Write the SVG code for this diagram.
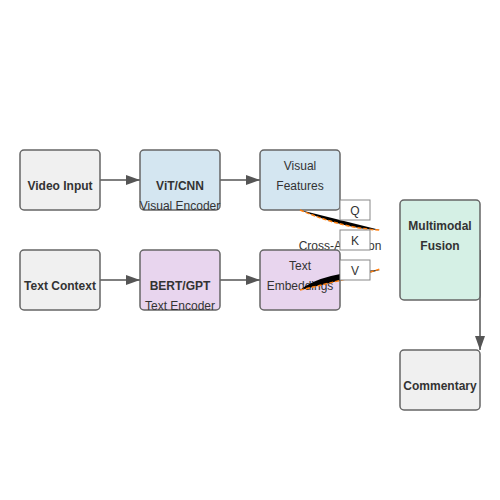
<svg xmlns="http://www.w3.org/2000/svg" width="500" height="500" viewBox="0 0 500 500">
<defs>
<marker id="arr" viewBox="0 0 14 10" refX="14" refY="5" markerWidth="14" markerHeight="10" markerUnits="userSpaceOnUse" orient="auto">
<path d="M0,0 L14,5 L0,10 z" fill="#555"/>
</marker>
<style>
.box{stroke:#666;stroke-width:1.5}
.grey{fill:#f0f0f0}
.blue{fill:#d4e6f1}
.purple{fill:#e8d5ee}
.green{fill:#d5f0e5}
.small{fill:#fff;stroke:#888;stroke-width:1}
.b{font-family:"Liberation Sans",Arial,sans-serif;font-size:12px;font-weight:bold;fill:#333;text-anchor:middle}
.t{font-family:"Liberation Sans",Arial,sans-serif;font-size:12px;fill:#333;text-anchor:middle}
.link{stroke:#555;stroke-width:1.5;fill:none}
.wedge{fill:#000;stroke:none}
.attn{fill:none;stroke:#ff7f0e;stroke-width:1.5;stroke-dasharray:4,2}
</style>
</defs>
<rect width="500" height="500" fill="#fff"/>
<g id="connectors">
<line class="link" x1="100" y1="180" x2="140" y2="180" marker-end="url(#arr)"/>
<line class="link" x1="220" y1="180" x2="260" y2="180" marker-end="url(#arr)"/>
<line class="link" x1="100" y1="280" x2="140" y2="280" marker-end="url(#arr)"/>
<line class="link" x1="220" y1="280" x2="260" y2="280" marker-end="url(#arr)"/>
<line class="link" x1="480" y1="250" x2="480" y2="350" marker-end="url(#arr)"/>
</g>
<g id="cross-attention-label"><text class="t" x="340" y="250">Cross-Attention</text></g>
<g id="video-input"><rect class="box grey" x="20" y="150" width="80" height="60" rx="4"/><text class="b" x="60" y="190">Video Input</text></g>
<g id="vit-cnn"><rect class="box blue" x="140" y="150" width="80" height="60" rx="4"/><text class="b" x="180" y="190">ViT/CNN</text><text class="t" x="180" y="210">Visual Encoder</text></g>
<g id="visual-features"><rect class="box blue" x="260" y="150" width="80" height="60" rx="4"/><text class="t" x="300" y="170">Visual</text><text class="t" x="300" y="190">Features</text></g>
<g id="text-context"><rect class="box grey" x="20" y="250" width="80" height="60" rx="4"/><text class="b" x="60" y="290">Text Context</text></g>
<g id="bert-gpt"><rect class="box purple" x="140" y="250" width="80" height="60" rx="4"/><text class="b" x="180" y="290">BERT/GPT</text><text class="t" x="180" y="310">Text Encoder</text></g>
<g id="text-embeddings"><rect class="box purple" x="260" y="250" width="80" height="60" rx="4"/><text class="t" x="300" y="270">Text</text><text class="t" x="300" y="290">Embeddings</text></g>
<g id="attention-links">
<path class="wedge" d="M300,210 L380,230 Q345,229 300,210 Z"/>
<path class="attn" d="M300,210 Q345,229 380,230"/>
<path class="wedge" d="M300,290 Q322,272 380,270 Q335,282 300,290 Z"/>
<path class="attn" d="M300,290 Q345,280 380,269"/>
</g>
<g id="q"><rect class="small" x="340" y="200" width="30" height="20"/><text class="t" x="355" y="215">Q</text></g>
<g id="k"><rect class="small" x="340" y="230" width="30" height="20"/><text class="t" x="355" y="245">K</text></g>
<g id="v"><rect class="small" x="340" y="260" width="30" height="20"/><text class="t" x="355" y="275">V</text></g>
<g id="multimodal-fusion"><rect class="box green" x="400" y="200" width="80" height="100" rx="4"/><text class="b" x="440" y="230">Multimodal</text><text class="b" x="440" y="250">Fusion</text></g>
<g id="commentary"><rect class="box grey" x="400" y="350" width="80" height="60" rx="4"/><text class="b" x="440" y="390">Commentary</text></g>
</svg>
